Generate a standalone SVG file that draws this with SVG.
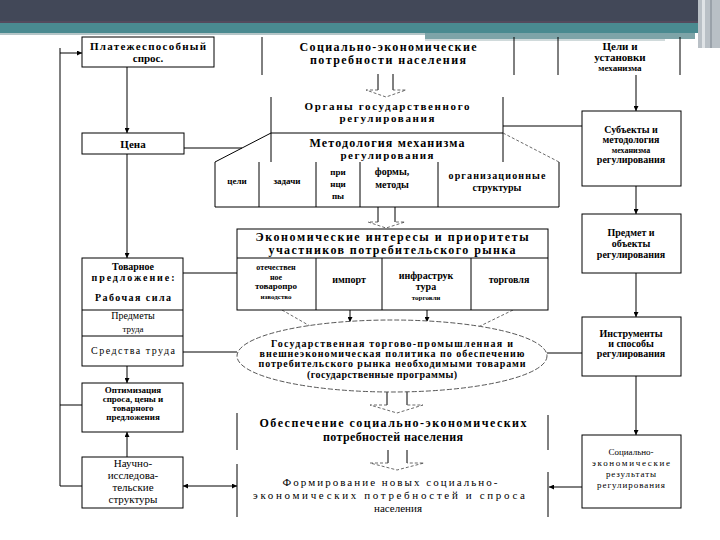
<svg xmlns="http://www.w3.org/2000/svg" width="720" height="540" viewBox="0 0 720 540">
<style>
.bx{fill:#fff;stroke:#000;stroke-width:1}
.ln{fill:none;stroke:#000;stroke-width:1}
.dl{fill:none;stroke:#444;stroke-width:0.8;stroke-dasharray:3 2}
.b{font-family:"Liberation Serif","Times New Roman",serif;font-weight:bold;text-anchor:middle;fill:#000}
.r{font-family:"Liberation Serif","Times New Roman",serif;text-anchor:middle;fill:#000}
</style>
<defs>
<marker id="ah" viewBox="0 0 10 10" refX="10" refY="5" markerWidth="5" markerHeight="5" orient="auto-start-reverse" markerUnits="userSpaceOnUse">
<path d="M0,0 L10,5 L0,10 z" fill="#000"/>
</marker>
</defs>
<rect width="720" height="540" fill="#fff"/>
<g id="header">
<rect x="0" y="0" width="720" height="23" fill="#424858"/>
<rect x="0" y="21" width="720" height="2" fill="#544a5c"/>
<rect x="0" y="23" width="720" height="10" fill="#4a8a90"/>
<rect x="0" y="33" width="425" height="2" fill="#b4c5c7"/>
<rect x="425" y="33" width="270" height="6" fill="#7ea4a8"/>
<rect x="425" y="39" width="240" height="2" fill="#d0dadb"/>
<rect x="698" y="0" width="22" height="48" fill="#b9c0c6"/>
<rect x="702" y="0" width="3" height="48" fill="#dfe3e6"/>
<rect x="710" y="0" width="2" height="48" fill="#9aa2aa"/>
</g>
<g id="connectors">
<line class="ln" x1="60" y1="48" x2="60" y2="486"/>
<line class="ln" x1="60" y1="53" x2="82" y2="53" marker-end="url(#ah)"/>
<line class="ln" x1="60" y1="405" x2="82" y2="405"/>
<line class="ln" x1="60" y1="486" x2="82" y2="486"/>
<line class="ln" x1="127" y1="67" x2="127" y2="133" marker-end="url(#ah)"/>
<line class="ln" x1="127" y1="154" x2="127" y2="258" marker-end="url(#ah)"/>
<line class="ln" x1="127" y1="366" x2="127" y2="383" marker-end="url(#ah)"/>
<line class="ln" x1="127" y1="457" x2="127" y2="432" marker-end="url(#ah)"/>
<line class="ln" x1="184" y1="148" x2="242" y2="148"/>
<line class="ln" x1="183" y1="273" x2="237" y2="273"/>
<line class="ln" x1="183" y1="352" x2="237" y2="352"/>
<line class="ln" x1="183" y1="486" x2="237" y2="486" marker-start="url(#ah)" marker-end="url(#ah)"/>
<line class="ln" x1="503" y1="126" x2="582" y2="126"/>
<line class="ln" x1="636" y1="75" x2="636" y2="111" marker-end="url(#ah)"/>
<line class="ln" x1="636" y1="186" x2="636" y2="214" marker-end="url(#ah)"/>
<line class="ln" x1="636" y1="273" x2="636" y2="317" marker-end="url(#ah)"/>
<line class="ln" x1="636" y1="376" x2="636" y2="435" marker-end="url(#ah)"/>
<line class="ln" x1="582" y1="487" x2="549" y2="487" marker-end="url(#ah)"/>
<line class="ln" x1="547" y1="353" x2="582" y2="353"/>
<line class="dl" x1="282" y1="310" x2="317" y2="330" marker-end="url(#ah)"/>
<line class="ln" x1="350" y1="310" x2="350" y2="322" marker-end="url(#ah)"/>
<line class="ln" x1="427" y1="310" x2="427" y2="322" marker-end="url(#ah)"/>
<line class="dl" x1="513" y1="310" x2="472" y2="330" marker-end="url(#ah)"/>
<g id="hollow1">
<line class="ln" x1="378" y1="74" x2="378" y2="90"/><line class="ln" x1="393" y1="74" x2="393" y2="90"/>
<polyline class="dl" points="378,90 366,90 386,97 406,90 393,90"/>
</g>
<g id="hollow2">
<line class="ln" x1="378" y1="207" x2="378" y2="222"/><line class="ln" x1="395" y1="207" x2="395" y2="222"/>
<polyline class="dl" points="378,222 368,222 386,228 405,222 395,222"/>
</g>
<g id="hollow3">
<line class="ln" x1="387" y1="391" x2="387" y2="405"/><line class="ln" x1="407" y1="391" x2="407" y2="405"/>
<polyline class="dl" points="387,405 370,405 397,413 423,405 407,405"/>
</g>
<g id="hollow4">
<line class="ln" x1="388" y1="450" x2="388" y2="463"/><line class="ln" x1="407" y1="450" x2="407" y2="463"/>
<polyline class="dl" points="388,463 370,463 397,470 424,463 407,463"/>
</g>
</g>
<g id="n-platezh">
<rect class="bx" x="82" y="37" width="132" height="30"/>
<text class="b" x="148" y="50" font-size="11" textLength="116">Платежеспособный</text>
<text class="b" x="148" y="62" font-size="11">спрос.</text>
</g>
<g id="n-potreb">
<line class="ln" x1="262" y1="37" x2="262" y2="75"/>
<line class="ln" x1="514" y1="37" x2="514" y2="75"/>
<text class="b" x="388" y="51" font-size="12" textLength="177">Социально-экономические</text>
<text class="b" x="388" y="64" font-size="12" textLength="156">потребности населения</text>
</g>
<g id="n-tseli">
<line class="ln" x1="558" y1="37" x2="558" y2="75"/>
<line class="ln" x1="680" y1="37" x2="680" y2="75"/>
<text class="b" x="620" y="50" font-size="11">Цели и</text>
<text class="b" x="620" y="61" font-size="11">установки</text>
<text class="b" x="620" y="71" font-size="9">механизма</text>
</g>
<g id="n-organy">
<line class="ln" x1="271" y1="97" x2="271" y2="162"/>
<line class="ln" x1="503" y1="97" x2="503" y2="162"/>
<line class="ln" x1="271" y1="133" x2="503" y2="133"/>
<text class="b" x="387" y="110" font-size="11" textLength="165">Органы государственного</text>
<text class="b" x="387" y="122" font-size="11" textLength="95">регулирования</text>
</g>
<g id="n-metod">
<line class="ln" x1="271" y1="133" x2="215" y2="162"/>
<line class="dl" x1="503" y1="133" x2="559" y2="162"/>
<line class="ln" x1="215" y1="162" x2="215" y2="207"/>
<line class="ln" x1="259" y1="162" x2="259" y2="207"/>
<line class="ln" x1="316" y1="162" x2="316" y2="207"/>
<line class="ln" x1="360" y1="162" x2="360" y2="207"/>
<line class="ln" x1="438" y1="162" x2="438" y2="207"/>
<line class="ln" x1="559" y1="162" x2="559" y2="207"/>
<line class="ln" x1="215" y1="207" x2="559" y2="207"/>
<text class="b" x="387" y="147" font-size="12" textLength="155">Методология механизма</text>
<text class="b" x="387" y="159" font-size="11" textLength="93">регулирования</text>
<text class="b" x="237" y="184" font-size="9">цели</text>
<text class="b" x="287" y="184" font-size="9">задачи</text>
<text class="b" x="338" y="175" font-size="9">при</text>
<text class="b" x="338" y="187" font-size="9">нци</text>
<text class="b" x="338" y="199" font-size="9">пы</text>
<text class="b" x="392" y="175" font-size="10">формы,</text>
<text class="b" x="392" y="188" font-size="10">методы</text>
<text class="b" x="497" y="179" font-size="10" textLength="97">организационные</text>
<text class="b" x="497" y="191" font-size="10">структуры</text>
</g>
<g id="n-tsena">
<rect class="bx" x="82" y="133" width="102" height="21"/>
<text class="b" x="133" y="148" font-size="11">Цена</text>
</g>
<g id="n-subekty">
<rect class="bx" x="582" y="111" width="99" height="75"/>
<text class="b" x="631" y="133" font-size="10">Субъекты и</text>
<text class="b" x="631" y="143" font-size="10">методология</text>
<text class="b" x="631" y="153" font-size="8">механизма</text>
<text class="b" x="631" y="163" font-size="10">регулирования</text>
</g>
<g id="n-predmet">
<rect class="bx" x="582" y="214" width="99" height="59"/>
<text class="b" x="631" y="236" font-size="10">Предмет и</text>
<text class="b" x="631" y="247" font-size="10">объекты</text>
<text class="b" x="631" y="258" font-size="10">регулирования</text>
</g>
<g id="n-instr">
<rect class="bx" x="582" y="317" width="99" height="59"/>
<text class="b" x="631" y="337" font-size="10">Инструменты</text>
<text class="b" x="631" y="347" font-size="10">и способы</text>
<text class="b" x="631" y="357" font-size="10">регулирования</text>
</g>
<g id="n-rezult">
<rect class="bx" x="582" y="435" width="99" height="73"/>
<text class="r" x="631" y="455" font-size="9">Социально-</text>
<text class="r" x="631" y="466" font-size="9" textLength="78">экономические</text>
<text class="r" x="631" y="477" font-size="9" textLength="50">результаты</text>
<text class="r" x="631" y="488" font-size="9" textLength="68">регулирования</text>
</g>
<g id="n-ekon">
<rect class="bx" x="237" y="229" width="311" height="81"/>
<line class="ln" x1="237" y1="258" x2="548" y2="258"/>
<line class="ln" x1="316" y1="258" x2="316" y2="310"/>
<line class="ln" x1="382" y1="258" x2="382" y2="310"/>
<line class="ln" x1="471" y1="258" x2="471" y2="310"/>
<text class="b" x="392" y="241" font-size="12" textLength="273">Экономические интересы и приоритеты</text>
<text class="b" x="392" y="254" font-size="12" textLength="247">участников потребительского рынка</text>
<text class="b" x="276" y="270" font-size="8">отечествен</text>
<text class="b" x="276" y="280" font-size="8">ное</text>
<text class="b" x="276" y="289" font-size="9">товаропро</text>
<text class="b" x="276" y="299" font-size="7">изводство</text>
<text class="b" x="349" y="283" font-size="10">импорт</text>
<text class="b" x="426" y="279" font-size="10">инфраструк</text>
<text class="b" x="426" y="290" font-size="10">тура</text>
<text class="b" x="426" y="300" font-size="7">торговли</text>
<text class="b" x="509" y="283" font-size="10">торговля</text>
</g>
<g id="n-tovar">
<rect class="bx" x="82" y="258" width="101" height="108"/>
<line class="ln" x1="82" y1="310" x2="183" y2="310"/>
<line class="ln" x1="82" y1="336" x2="183" y2="336"/>
<text class="b" x="133" y="270" font-size="10">Товарное</text>
<text class="b" x="133" y="281" font-size="10" textLength="83">предложение:</text>
<text class="b" x="133" y="301" font-size="10" textLength="76">Рабочая сила</text>
<text class="r" x="133" y="319" font-size="10">Предметы</text>
<text class="r" x="133" y="332" font-size="9">труда</text>
<text class="r" x="133" y="354" font-size="10" textLength="84">Средства труда</text>
</g>
<g id="n-optim">
<rect class="bx" x="82" y="383" width="101" height="49"/>
<text class="b" x="133" y="393" font-size="9">Оптимизация</text>
<text class="b" x="133" y="402" font-size="9">спроса, цены и</text>
<text class="b" x="133" y="411" font-size="9">товарного</text>
<text class="b" x="133" y="420" font-size="9">предложения</text>
</g>
<g id="n-nauch">
<rect class="bx" x="82" y="457" width="101" height="51"/>
<text class="r" x="133" y="467" font-size="11">Научно-</text>
<text class="r" x="133" y="479" font-size="11">исследова-</text>
<text class="r" x="133" y="491" font-size="11">тельские</text>
<text class="r" x="133" y="503" font-size="11">структуры</text>
</g>
<g id="n-politika">
<ellipse cx="392" cy="356" rx="155" ry="36" fill="#fff" stroke="#444" stroke-width="0.9" stroke-dasharray="5 2"/>
<text class="b" x="392" y="347" font-size="10" textLength="242">Государственная торгово-промышленная и</text>
<text class="b" x="392" y="357" font-size="10" textLength="265">внешнеэкономическая политика по обеспечению</text>
<text class="b" x="392" y="367" font-size="10" textLength="267">потребительского рынка необходимыми товарами</text>
<text class="b" x="382" y="378" font-size="10" textLength="150">(государственные программы)</text>
</g>
<g id="n-obesp">
<line class="ln" x1="237" y1="413" x2="237" y2="450"/>
<line class="ln" x1="548" y1="415" x2="548" y2="450"/>
<text class="b" x="393" y="427" font-size="12" textLength="267">Обеспечение социально-экономических</text>
<text class="b" x="393" y="441" font-size="12" textLength="140">потребностей населения</text>
</g>
<g id="n-form">
<line class="ln" x1="237" y1="464" x2="237" y2="517"/>
<line class="ln" x1="548" y1="472" x2="548" y2="517"/>
<text class="r" x="390" y="486" font-size="11" textLength="215">Формирование новых социально-</text>
<text class="r" x="389" y="499" font-size="11" textLength="272">экономических потребностей и спроса</text>
<text class="r" x="398" y="512" font-size="11">населения</text>
</g>
</svg>
